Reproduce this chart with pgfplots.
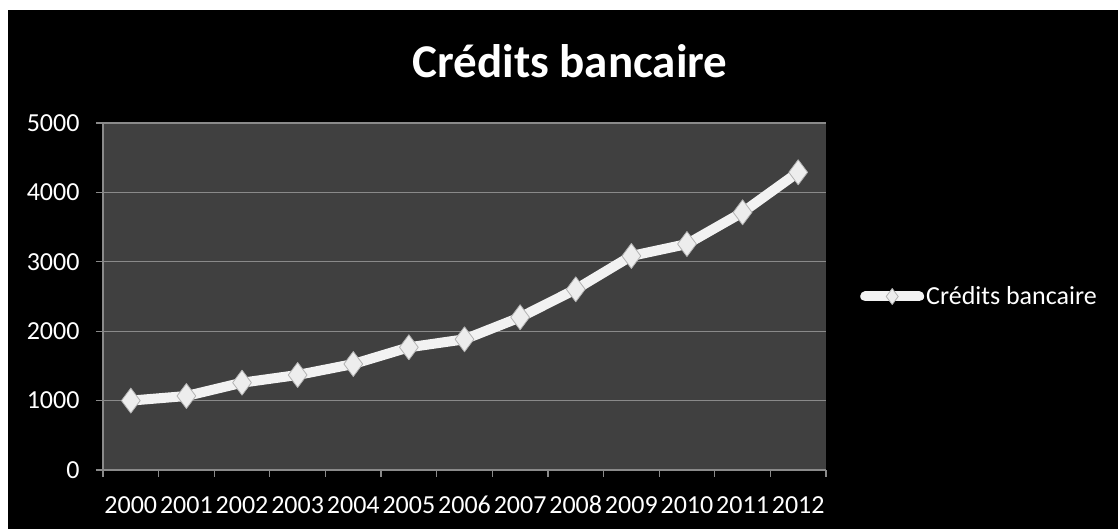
\documentclass[border=0pt]{standalone}
\usepackage{pgfplots}
\pgfplotsset{compat=1.18}
\usepackage{fontspec}
\setmainfont{Carlito}
\definecolor{plotbg}{HTML}{404040}
\definecolor{gridgray}{HTML}{8A8A8A}
\definecolor{linewhite}{HTML}{F2F2F2}
\begin{document}
\begin{tikzpicture}
\fill[white] (-103pt,-59pt) rectangle (1015pt,470pt);
\fill[black] (-95pt,-59pt) rectangle (1015pt,460pt);
\node[anchor=base, font=\bfseries\fontsize{47}{56}\selectfont, text=white, inner sep=0pt] at (467pt,392pt) {Crédits bancaire};
\begin{axis}[
  anchor=south west,
  scale only axis, width=723pt, height=347pt,
  xmin=-0.5, xmax=12.5, ymin=0, ymax=5000,
  axis background/.style={fill=plotbg},
  axis x line*=bottom, axis y line*=left,
  axis line style={gridgray, line width=1.3pt, -},
  xtick={0,1,2,3,4,5,6,7,8,9,10,11,12},
  xticklabels={2000,2001,2002,2003,2004,2005,2006,2007,2008,2009,2010,2011,2012},
  major x tick style={draw=none},
  minor xtick={-0.5,0.5,1.5,2.5,3.5,4.5,5.5,6.5,7.5,8.5,9.5,10.5,11.5,12.5},
  ytick={0,1000,2000,3000,4000,5000},
  ymajorgrids,
  grid style={gridgray, line width=1.3pt},
  tick style={gridgray, line width=1.3pt},
  tick align=outside, major tick length=7pt, minor tick length=7pt,
  ticklabel style={font=\fontsize{26}{31}\selectfont, text=white},
  xticklabel style={anchor=base, yshift=-37pt},
  yticklabel style={xshift=-13pt, /pgf/number format/1000 sep={}},
  /pgf/number format/assume math mode=true,
  scaled y ticks=false,
  legend style={at={(1,0.5)}, anchor=west, xshift=34pt, draw=none, fill=none,
    text=white, font=\fontsize{26}{31}\selectfont, inner sep=0pt,
    /tikz/every even column/.append style={column sep=0pt}},
  legend cell align=left,
  legend image code/.code={
    \draw[mark repeat=2,mark phase=2,#1,mark size=8pt] plot coordinates {(0pt,0pt) (27pt,0pt) (54pt,0pt)};
  },
]
\addplot[color=linewhite, line width=10pt, line join=round, line cap=round,
  mark=diamond*, mark size=12.5pt,
  mark options={solid, line width=0.8pt, draw=gray!60, fill=white!93!black}]
coordinates {
(0,1000) (1,1066) (2,1258) (3,1369) (4,1527) (5,1768) (6,1883)
(7,2200) (8,2604) (9,3084) (10,3256) (11,3713) (12,4290)
};
\addlegendentry{Crédits bancaire}
\end{axis}
\end{tikzpicture}
\end{document}
